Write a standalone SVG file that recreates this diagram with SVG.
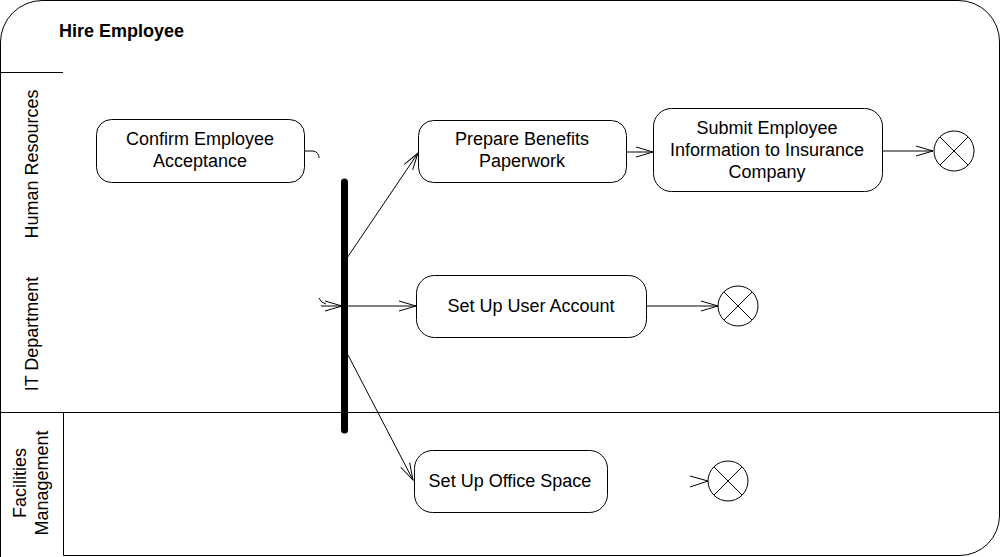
<svg xmlns="http://www.w3.org/2000/svg" width="1000" height="557" viewBox="0 0 1000 557">
<style>
.frame{fill:none;stroke:#000;stroke-width:1}
.node{fill:#fff;stroke:#000;stroke-width:1}
.t{font-family:"Liberation Sans",Arial,sans-serif;font-size:18px;fill:#000;text-anchor:middle}
.title{font-family:"Liberation Sans",Arial,sans-serif;font-size:18px;font-weight:bold;fill:#000}
.edge{fill:none;stroke:#000;stroke-width:1}
.end{fill:#fff;stroke:#000;stroke-width:1}
</style>
<defs>
<marker id="arr" markerUnits="userSpaceOnUse" markerWidth="20" markerHeight="14" refX="18" refY="6" orient="auto">
<path d="M1,1 L18,6 L1,11" fill="none" stroke="#000" stroke-width="1"/>
</marker>
</defs>
<rect width="1000" height="557" fill="#fff"/>
<g id="frame">
<path class="frame" d="M0.5,557 V42 A42,42 0 0 1 42,0.5 H958 A41,41 0 0 1 999.5,42 V516 A40,40 0 0 1 960,555.5 H63.5 V412.5"/>
<path class="frame" d="M0,412.5 H1000 M0,72.5 H63"/>
<text class="title" x="59" y="37">Hire Employee</text>
</g>
<g id="lanes">
<text class="t" transform="translate(38,164) rotate(-90)">Human Resources</text>
<text class="t" transform="translate(38,334) rotate(-90)">IT Department</text>
<text class="t" transform="translate(26,483) rotate(-90)">Facilities</text>
<text class="t" transform="translate(48,483) rotate(-90)">Management</text>
</g>
<g id="connectors">
<path class="edge" d="M304,151 H313 Q319,152 319,158"/>
<path class="edge" d="M319,298 Q321,303 326,304"/>
<path class="edge" d="M321,306 H342" marker-end="url(#arr)"/>
<line x1="344.5" y1="182" x2="344.5" y2="430" stroke="#000" stroke-width="7" stroke-linecap="round"/>
<path class="edge" d="M347,258 L418,153" marker-end="url(#arr)"/>
<path class="edge" d="M348,306 H416" marker-end="url(#arr)"/>
<path class="edge" d="M348,355 L413,480" marker-end="url(#arr)"/>
<path class="edge" d="M626,152 H653" marker-end="url(#arr)"/>
<path class="edge" d="M882,151 H933" marker-end="url(#arr)"/>
<path class="edge" d="M646,306 H718" marker-end="url(#arr)"/>
<path class="edge" d="M690,476 L708,481 L690,487"/>
</g>
<g id="confirm">
<rect class="node" x="96.5" y="119.5" width="208" height="63" rx="15"/>
<text class="t" x="200" y="145">Confirm Employee</text>
<text class="t" x="200" y="167">Acceptance</text>
</g>
<g id="prepare">
<rect class="node" x="418.5" y="120.5" width="208" height="62" rx="15"/>
<text class="t" x="522" y="145">Prepare Benefits</text>
<text class="t" x="522" y="167">Paperwork</text>
</g>
<g id="submit">
<rect class="node" x="653.5" y="108.5" width="229" height="83" rx="18"/>
<text class="t" x="767" y="134">Submit Employee</text>
<text class="t" x="767" y="156">Information to Insurance</text>
<text class="t" x="767" y="178">Company</text>
</g>
<g id="useraccount">
<rect class="node" x="416.5" y="275.5" width="230" height="62" rx="18"/>
<text class="t" x="531" y="312">Set Up User Account</text>
</g>
<g id="officespace">
<rect class="node" x="414.5" y="450.5" width="193" height="62" rx="18"/>
<text class="t" x="510" y="487">Set Up Office Space</text>
</g>
<g id="end1">
<circle class="end" cx="954" cy="151" r="20"/>
<path class="edge" d="M940,137 L968,165 M968,137 L940,165"/>
</g>
<g id="end2">
<circle class="end" cx="738" cy="306" r="20"/>
<path class="edge" d="M724,292 L752,320 M752,292 L724,320"/>
</g>
<g id="end3">
<circle class="end" cx="728" cy="481" r="20"/>
<path class="edge" d="M714,467 L742,495 M742,467 L714,495"/>
</g>
</svg>
